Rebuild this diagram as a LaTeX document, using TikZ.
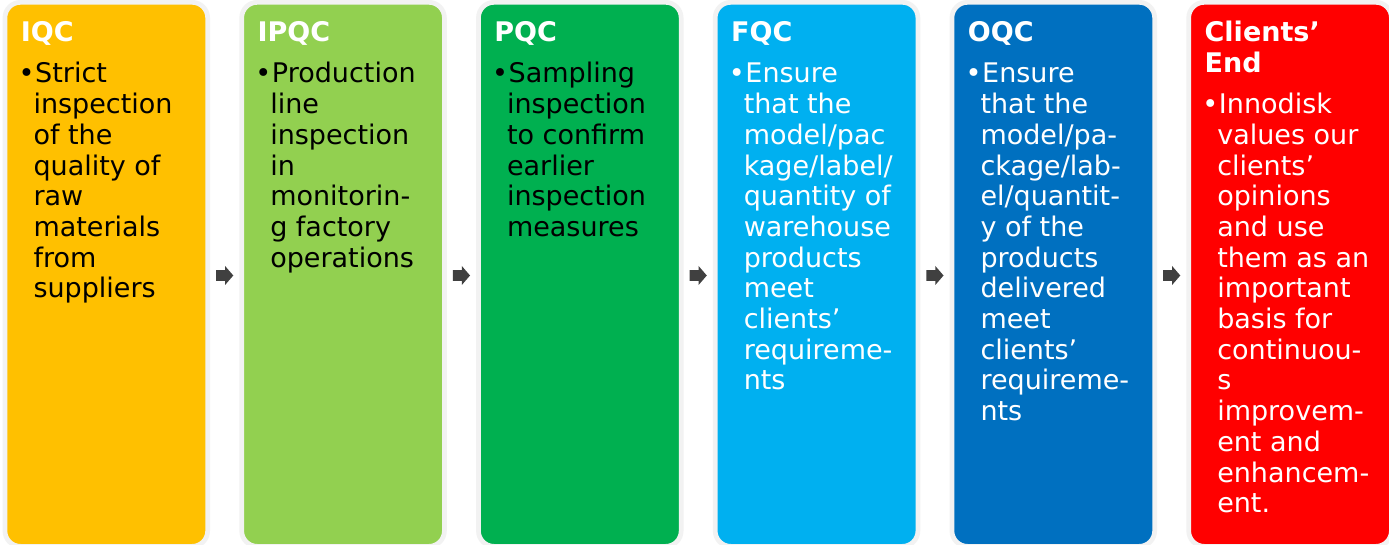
\documentclass[tikz,border=0pt]{standalone}
\usepackage{fontspec}
\setmainfont{DejaVu Sans}
\usetikzlibrary{calc}
\definecolor{cIQC}{HTML}{FFC000}
\definecolor{cIPQC}{HTML}{92D050}
\definecolor{cPQC}{HTML}{00B050}
\definecolor{cFQC}{HTML}{00B0F0}
\definecolor{cOQC}{HTML}{0070C0}
\definecolor{cEND}{HTML}{FF0000}
\definecolor{rimgray}{HTML}{F2F2F2}
\definecolor{arrgray}{HTML}{404040}
\newcommand\qbull[1]{\hbox{\rlap{\kern-15pt •}\kern1.7pt #1}}
\newcommand\qline[1]{\hbox{#1}}
\tikzset{
  panel/.style={draw=rimgray, line width=4.7pt, rounded corners=15.5pt,
    minimum width=202.7pt, minimum height=544pt, inner sep=0pt, outer sep=0pt,
    anchor=north west},
  ttl/.style={anchor=base west, inner sep=0pt, text=white,
    font=\bfseries\fontsize{27}{30.5}\selectfont},
  bod/.style={anchor=base west, inner sep=0pt,
    font=\fontsize{27}{30.7}\selectfont},
  flowarrow/.style={fill=arrgray, draw=none}
}
\begin{document}
\begin{tikzpicture}[x=1pt,y=-1pt]
\useasboundingbox (0,0) rectangle (1389,545);
\fill[white] (0,0) rectangle (1389,545);
\coordinate (rowy) at (0,275.5);
% panels
\node[panel, fill=cIQC]  (iqc)  at (4.95,2.35) {};
\node[panel, fill=cIPQC] (ipqc) at (241.7,2.35) {};
\node[panel, fill=cPQC]  (pqc)  at (478.45,2.35) {};
\node[panel, fill=cFQC]  (fqc)  at (715.2,2.35) {};
\node[panel, fill=cOQC]  (oqc)  at (951.95,2.35) {};
\node[panel, fill=cEND]  (cend) at (1188.7,2.35) {};
% titles
\node[ttl] (iqc-t)  at ([shift={(15.75,39.65)}]iqc.north west) {IQC};
\node[ttl] (ipqc-t) at ([shift={(15.75,39.65)}]ipqc.north west) {IPQC};
\node[ttl] (pqc-t)  at ([shift={(15.75,39.65)}]pqc.north west) {PQC};
\node[ttl] (fqc-t)  at ([shift={(15.75,39.65)}]fqc.north west) {FQC};
\node[ttl] (oqc-t)  at ([shift={(15.75,39.65)}]oqc.north west) {OQC};
\node[ttl] (cend-t) at ([shift={(15.75,39.65)}]cend.north west)
  {\vtop{\qline{Clients’}\qline{End}}};
% bodies
\node[bod, text=black] (iqc-b) at ([shift={(28.35,80.65)}]iqc.north west)
  {\vtop{\qbull{Strict}\qline{inspection}\qline{of the}\qline{quality of}\qline{raw}\qline{materials}\qline{from}\qline{suppliers}}};
\node[bod, text=black] (ipqc-b) at ([shift={(28.35,80.65)}]ipqc.north west)
  {\vtop{\qbull{Production}\qline{line}\qline{inspection}\qline{in}\qline{monitorin-}\qline{g factory}\qline{operations}}};
\node[bod, text=black] (pqc-b) at ([shift={(28.35,80.65)}]pqc.north west)
  {\vtop{\qbull{Sampling}\qline{inspection}\qline{to confirm}\qline{earlier}\qline{inspection}\qline{measures}}};
\node[bod, text=white] (fqc-b) at ([shift={(28.35,80.65)}]fqc.north west)
  {\vtop{\qbull{Ensure}\qline{that the}\qline{model/pac}\qline{kage/label/}\qline{quantity of}\qline{warehouse}\qline{products}\qline{meet}\qline{clients’}\qline{requireme-}\qline{nts}}};
\node[bod, text=white] (oqc-b) at ([shift={(28.35,80.65)}]oqc.north west)
  {\vtop{\qbull{Ensure}\qline{that the}\qline{model/pa-}\qline{ckage/lab-}\qline{el/quantit-}\qline{y of the}\qline{products}\qline{delivered}\qline{meet}\qline{clients’}\qline{requireme-}\qline{nts}}};
\node[bod, text=white] (cend-b) at ([shift={(28.35,111.35)}]cend.north west)
  {\vtop{\qbull{Innodisk}\qline{values our}\qline{clients’}\qline{opinions}\qline{and use}\qline{them as an}\qline{important}\qline{basis for}\qline{continuou-}\qline{s}\qline{improvem-}\qline{ent and}\qline{enhancem-}\qline{ent.}}};
% arrows between panels
\foreach \a/\b in {iqc/ipqc, ipqc/pqc, pqc/fqc, fqc/oqc, oqc/cend}{
  \coordinate (m-\a) at ($(\a.east)!0.5!(\b.west)$);
  \fill[flowarrow] (m-\a |- rowy) ++(-8.6,-5.3) -- ++(9,0) -- ++(0,-4.2)
    -- ++(8.2,9.5) -- ++(-8.2,9.5) -- ++(0,-4.2) -- ++(-9,0) -- cycle;
}
\end{tikzpicture}
\end{document}
